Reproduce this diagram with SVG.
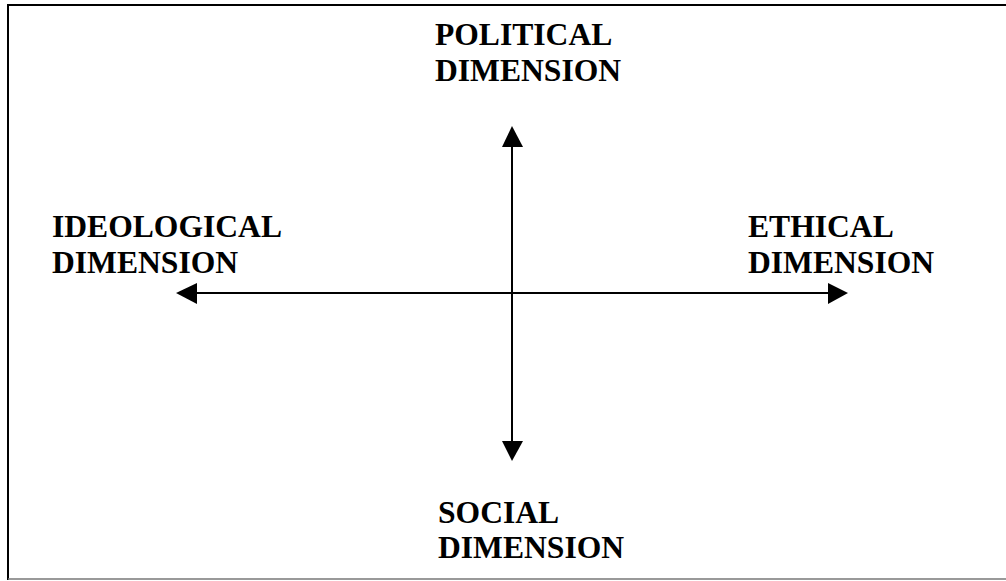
<svg xmlns="http://www.w3.org/2000/svg" width="1006" height="581" viewBox="0 0 1006 581">
<defs>
<style>
.t{font-family:"Liberation Serif","Times New Roman",serif;font-weight:bold;font-size:31.6px;fill:#000}
.ax{stroke:#000;stroke-width:2;fill:none}
</style>
</defs>
<rect width="1006" height="581" fill="#fff"/>
<g id="frame">
<line x1="8" y1="5" x2="1006" y2="5" stroke="#000" stroke-width="2"/>
<line x1="8" y1="4" x2="8" y2="580" stroke="#000" stroke-width="2"/>
<line x1="8" y1="579" x2="1006" y2="579" stroke="#777" stroke-width="1.5"/>
</g>
<g id="connectors">
<line class="ax" x1="512" y1="145" x2="512" y2="443"/>
<line class="ax" x1="195" y1="293" x2="830" y2="293"/>
<polygon points="512,126 502,147 523,147" fill="#000"/>
<polygon points="512,461 502,441 523,441" fill="#000"/>
<polygon points="176,293 197,283 197,304" fill="#000"/>
<polygon points="848,293 828,283 828,304" fill="#000"/>
</g>
<g id="political"><text class="t" x="435" y="45">POLITICAL</text><text class="t" x="435" y="81">DIMENSION</text></g>
<g id="ideological"><text class="t" x="52" y="237">IDEOLOGICAL</text><text class="t" x="52" y="273">DIMENSION</text></g>
<g id="ethical"><text class="t" x="748" y="237">ETHICAL</text><text class="t" x="748" y="273">DIMENSION</text></g>
<g id="social"><text class="t" x="438" y="523">SOCIAL</text><text class="t" x="438" y="558">DIMENSION</text></g>
</svg>
